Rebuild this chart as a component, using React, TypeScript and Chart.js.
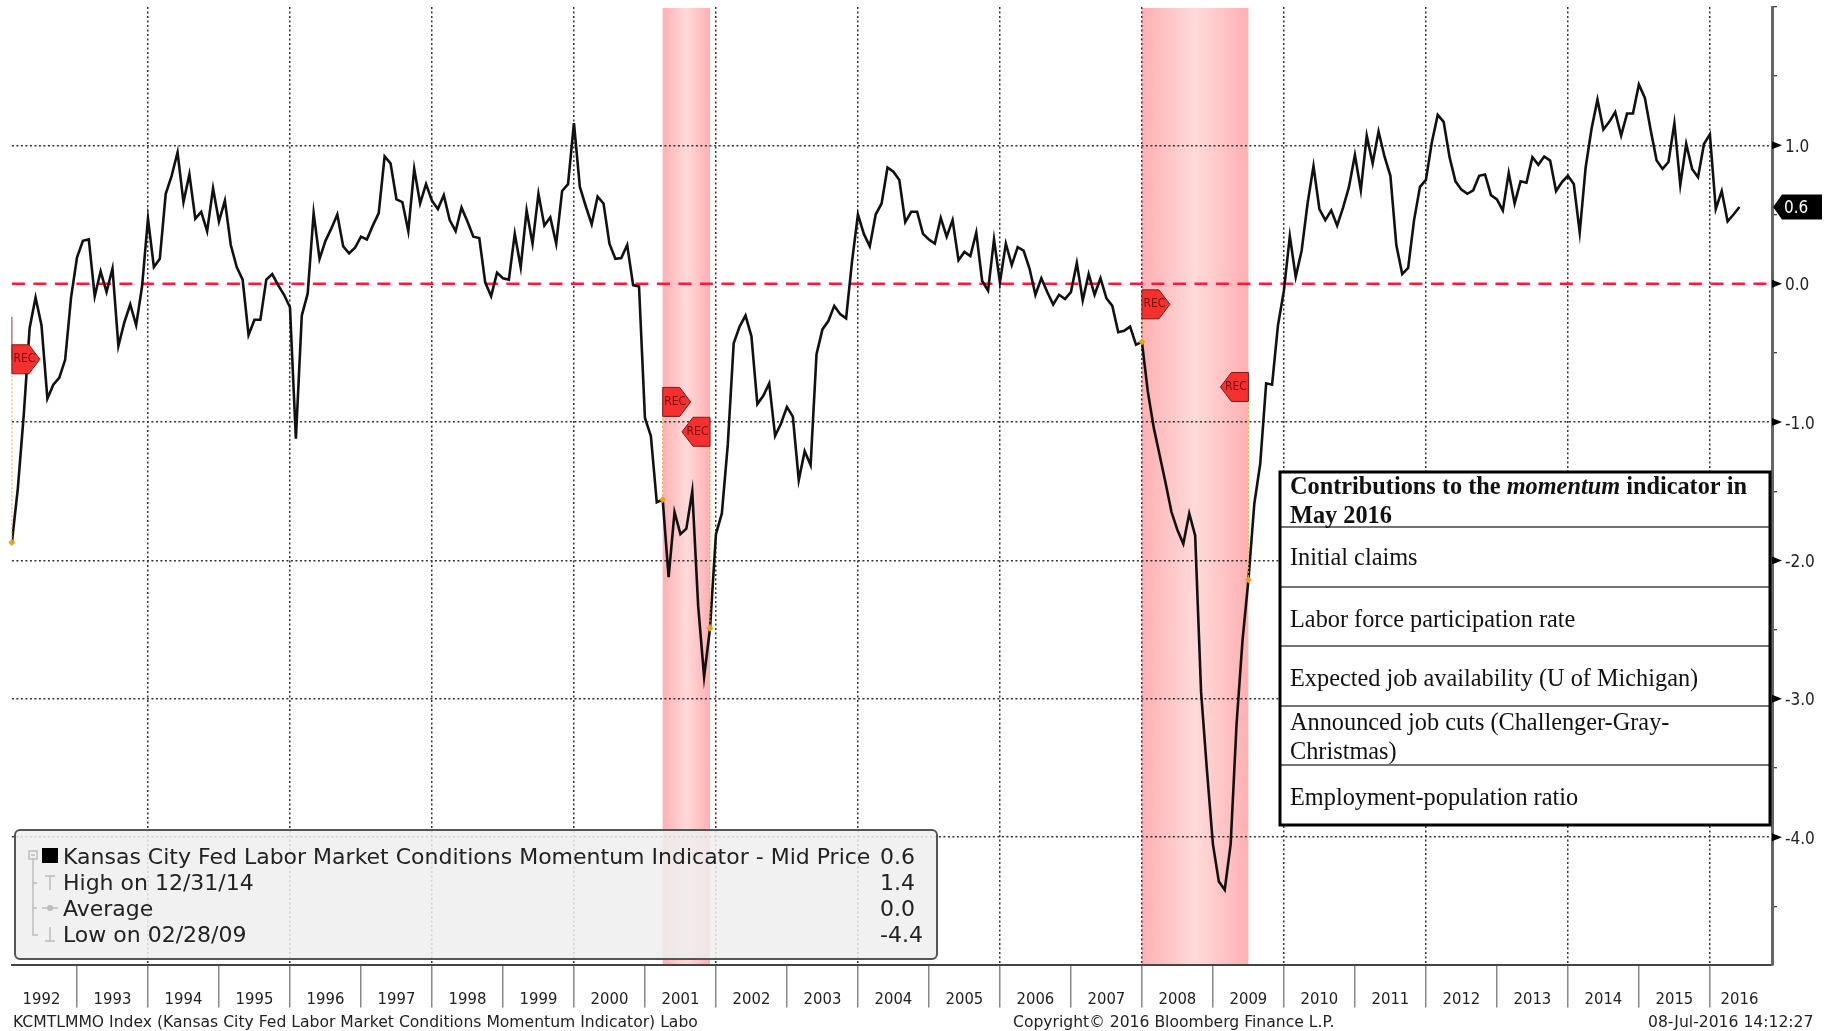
import React, { useEffect, useRef } from "react";
import { Chart, registerables } from "chart.js";

Chart.register(...registerables);

// Month-end readings, Jan 1992 (index 1) to May 2016 (index 293)
const momentum: number[] = [
  -1.87, -1.48, -0.95, -0.32, -0.10, -0.30, -0.83, -0.73, -0.68, -0.55, -0.10, 0.19,
  0.31, 0.32, -0.09, 0.09, -0.06, 0.11, -0.45, -0.28, -0.15, -0.30, -0.02, 0.47,
  0.12, 0.18, 0.65, 0.78, 0.95, 0.59, 0.79, 0.47, 0.52, 0.38, 0.69, 0.45,
  0.60, 0.28, 0.12, 0.03, -0.37, -0.26, -0.26, 0.03, 0.07, -0.01, -0.08, -0.17,
  -1.12, -0.23, -0.07, 0.51, 0.18, 0.31, 0.40, 0.50, 0.27, 0.22, 0.26, 0.34,
  0.32, 0.42, 0.51, 0.92, 0.87, 0.61, 0.59, 0.38, 0.83, 0.58, 0.72, 0.60,
  0.54, 0.64, 0.46, 0.38, 0.55, 0.45, 0.34, 0.33, 0.01, -0.09, 0.08, 0.04,
  0.03, 0.36, 0.12, 0.53, 0.29, 0.65, 0.42, 0.48, 0.29, 0.67, 0.72, 1.16,
  0.70, 0.56, 0.43, 0.63, 0.58, 0.29, 0.18, 0.185, 0.28, -0.01, -0.02, -0.97,
  -1.10, -1.58, -1.56, -2.12, -1.65, -1.81, -1.77, -1.50, -2.33, -2.84, -2.49, -1.81,
  -1.66, -1.165, -0.43, -0.31, -0.23, -0.38, -0.87, -0.81, -0.72, -1.10, -1.01, -0.89,
  -0.96, -1.42, -1.21, -1.31, -0.51, -0.33, -0.27, -0.16, -0.22, -0.25, 0.16, 0.50,
  0.36, 0.27, 0.50, 0.58, 0.84, 0.81, 0.75, 0.445, 0.52, 0.52, 0.36, 0.32,
  0.29, 0.475, 0.34, 0.46, 0.17, 0.23, 0.20, 0.37, 0.02, -0.05, 0.32, 0.01,
  0.29, 0.135, 0.265, 0.24, 0.11, -0.08, 0.04, -0.06, -0.15, -0.08, -0.11, -0.06,
  0.15, -0.12, 0.07, -0.08, 0.04, -0.105, -0.16, -0.35, -0.34, -0.31, -0.44, -0.42,
  -0.78, -1.04, -1.24, -1.44, -1.65, -1.78, -1.88, -1.66, -1.82, -2.95, -3.52, -4.05,
  -4.32, -4.38, -4.05, -3.18, -2.58, -2.14, -1.59, -1.30, -0.72, -0.73, -0.30, -0.05,
  0.345, 0.05, 0.24, 0.58, 0.85, 0.54, 0.46, 0.53, 0.42, 0.55, 0.70, 0.93,
  0.675, 1.07, 0.87, 1.10, 0.92, 0.78, 0.28, 0.07, 0.115, 0.46, 0.70, 0.75,
  1.02, 1.22, 1.17, 0.915, 0.74, 0.68, 0.65, 0.675, 0.78, 0.79, 0.64, 0.61,
  0.53, 0.80, 0.58, 0.74, 0.73, 0.915, 0.86, 0.92, 0.89, 0.67, 0.735, 0.78,
  0.72, 0.37, 0.84, 1.12, 1.33, 1.115, 1.17, 1.24, 1.07, 1.23, 1.23, 1.44,
  1.345, 1.11, 0.89, 0.83, 0.88, 1.16, 0.715, 1.01, 0.83, 0.77, 1.01, 1.08,
  0.54, 0.67, 0.45, 0.50, 0.555,
];

const years: number[] = Array.from({ length: 25 }, (_, i) => 1992 + i);
const yTicks: number[] = [2, 1.5, 1, 0.5, 0, -0.5, -1, -1.5, -2, -2.5, -3, -3.5, -4, -4.5];
const recessionStart: number[] = [111, 192];
const recessionEnd: number[] = [119, 210];
const flagIndex: number[] = [1, 111, 119, 192, 210];
const flagValue: number[] = [-0.546, -0.854, -1.07, -0.149, -0.746];
const flagPointsRight: boolean[] = [true, true, false, true, false];

const legendRows: string[] = ["Kansas City Fed Labor Market Conditions Momentum Indicator - Mid Price", "High on 12/31/14", "Average", "Low on 02/28/09"];
const legendValues: string[] = ["0.6", "1.4", "0.0", "-4.4"];
const tableRows: string[][] = [
  ["Initial claims"],
  ["Labor force participation rate"],
  ["Expected job availability (U of Michigan)"],
  ["Announced job cuts (Challenger-Gray-", "Christmas)"],
  ["Employment-population ratio"],
];
const footerLeft = "KCMTLMMO Index (Kansas City Fed Labor Market Conditions Momentum Indicator) Labo";
const footerMid = "Copyright\u00A9 2016 Bloomberg Finance L.P.";
const footerRight = "08-Jul-2016 14:12:27";

const COND = '"DejaVu Sans Condensed", "DejaVu Sans", sans-serif';
const SANS = '"DejaVu Sans", sans-serif';
const SERIF = '"Liberation Serif", serif';
const X_MAX = 298.5;

const bandsPlugin = {
  id: "bands",
  beforeDraw(chart: any) {
    const { ctx, chartArea: a, scales: { x } } = chart;
    recessionStart.forEach((s, i) => {
      const x0 = x.getPixelForValue(s);
      const x1 = x.getPixelForValue(recessionEnd[i]);
      const g = ctx.createLinearGradient(x0, 0, x1, 0);
      g.addColorStop(0, "rgb(255,176,178)");
      g.addColorStop(0.5, "rgb(255,218,218)");
      g.addColorStop(1, "rgb(255,176,178)");
      ctx.fillStyle = g;
      ctx.fillRect(x0, a.top + 1, x1 - x0, a.bottom - a.top - 1);
    });
  },
};

function drawFlag(ctx: any, x: number, y: number, right: boolean) {
  const w = 28, h = 29, n = 11;
  const d = right ? 1 : -1;
  ctx.beginPath();
  ctx.moveTo(x, y - h / 2);
  ctx.lineTo(x + d * (w - n), y - h / 2);
  ctx.lineTo(x + d * w, y);
  ctx.lineTo(x + d * (w - n), y + h / 2);
  ctx.lineTo(x, y + h / 2);
  ctx.closePath();
  ctx.fillStyle = "#f5302f";
  ctx.fill();
  ctx.lineWidth = 1;
  ctx.strokeStyle = "#7d1a1a";
  ctx.stroke();
  ctx.fillStyle = "#7d1010";
  ctx.font = `12px ${COND}`;
  ctx.textAlign = "center";
  ctx.textBaseline = "middle";
  ctx.fillText("REC", x + d * 12.5, y);
}

const overlayPlugin = {
  id: "overlay",
  afterDraw(chart: any) {
    const { ctx, chartArea: a, scales: { x, y } } = chart;
    ctx.save();

    // connector lines, markers and flags
    ctx.save();
    ctx.beginPath();
    ctx.moveTo(x.getPixelForValue(1), y.getPixelForValue(-0.24));
    ctx.lineTo(x.getPixelForValue(1), y.getPixelForValue(flagValue[0]));
    ctx.strokeStyle = "#a03030";
    ctx.lineWidth = 1;
    ctx.stroke();
    ctx.restore();
    flagIndex.forEach((idx, i) => {
      const px = x.getPixelForValue(idx);
      const fy = y.getPixelForValue(flagValue[i]);
      const py = y.getPixelForValue(momentum[idx - 1]);
      ctx.save();
      ctx.setLineDash([2, 2]);
      ctx.strokeStyle = "#f6a623";
      ctx.lineWidth = 1;
      ctx.beginPath();
      ctx.moveTo(px, fy);
      ctx.lineTo(px, py);
      ctx.stroke();
      ctx.restore();
      ctx.fillStyle = "#e8a020";
      ctx.beginPath();
      ctx.moveTo(px, py - 3.5);
      ctx.lineTo(px + 3.5, py);
      ctx.lineTo(px, py + 3.5);
      ctx.lineTo(px - 3.5, py);
      ctx.closePath();
      ctx.fill();
      drawFlag(ctx, px, fy, flagPointsRight[i]);
    });

    // right axis triangles on labelled ticks
    yTicks.filter((v) => Number.isInteger(v) && v < 2).forEach((v) => {
      const py = y.getPixelForValue(v);
      ctx.fillStyle = "#000";
      ctx.beginPath();
      ctx.moveTo(a.right, py - 4);
      ctx.lineTo(a.right + 10, py);
      ctx.lineTo(a.right, py + 4);
      ctx.closePath();
      ctx.fill();
    });

    // last-value tag
    const last = momentum[momentum.length - 1];
    const ty = y.getPixelForValue(last);
    ctx.fillStyle = "#000";
    ctx.beginPath();
    ctx.moveTo(a.right + 1, ty);
    ctx.lineTo(a.right + 10, ty - 12.5);
    ctx.lineTo(a.right + 50, ty - 12.5);
    ctx.lineTo(a.right + 50, ty + 12.5);
    ctx.lineTo(a.right + 10, ty + 12.5);
    ctx.closePath();
    ctx.fill();
    ctx.fillStyle = "#fff";
    ctx.font = `17px ${COND}`;
    ctx.textAlign = "left";
    ctx.textBaseline = "middle";
    ctx.fillText(last.toFixed(1), a.right + 12, ty + 2);

    // legend box
    const bx = 15, by = 830, bw = 922, bh = 129;
    ctx.beginPath();
    ctx.roundRect(bx, by, bw, bh, 5);
    ctx.fillStyle = "rgba(239,239,239,0.86)";
    ctx.fill();
    ctx.lineWidth = 2;
    ctx.strokeStyle = "#555";
    ctx.stroke();

    // legend tree icons
    ctx.strokeStyle = "#bdbdbd";
    ctx.fillStyle = "#bdbdbd";
    ctx.lineWidth = 1.5;
    ctx.strokeRect(29, 851, 8, 8);
    ctx.beginPath();
    ctx.moveTo(31, 855); ctx.lineTo(35, 855);
    ctx.moveTo(33, 859); ctx.lineTo(33, 935); ctx.lineTo(38, 935);
    ctx.moveTo(33, 883); ctx.lineTo(37, 883);
    ctx.moveTo(33, 908); ctx.lineTo(37, 908);
    ctx.moveTo(45, 876); ctx.lineTo(55, 876);
    ctx.moveTo(50, 876); ctx.lineTo(50, 890);
    ctx.moveTo(42, 908); ctx.lineTo(58, 908);
    ctx.moveTo(50, 927); ctx.lineTo(50, 941);
    ctx.moveTo(45, 941); ctx.lineTo(55, 941);
    ctx.stroke();
    ctx.beginPath();
    ctx.arc(50, 908, 3, 0, Math.PI * 2);
    ctx.fill();
    ctx.fillStyle = "#000";
    ctx.fillRect(42, 848, 16, 15);

    // legend text
    ctx.fillStyle = "#222";
    ctx.font = `22px ${SANS}`;
    ctx.textAlign = "left";
    ctx.textBaseline = "alphabetic";
    legendRows.forEach((t, i) => ctx.fillText(t, 63, 864 + i * 26));
    legendValues.forEach((t, i) => ctx.fillText(t, 880, 864 + i * 26));

    // contributions table
    const tx = 1280, tr = 1770, tt = 472, tb = 825;
    ctx.fillStyle = "#fff";
    ctx.fillRect(tx, tt, tr - tx, tb - tt);
    ctx.strokeStyle = "#444";
    ctx.lineWidth = 1.5;
    [527, 587, 646, 706, 765].forEach((ly) => {
      ctx.beginPath();
      ctx.moveTo(tx, ly);
      ctx.lineTo(tr, ly);
      ctx.stroke();
    });
    ctx.strokeStyle = "#000";
    ctx.lineWidth = 3;
    ctx.strokeRect(tx, tt, tr - tx, tb - tt);

    ctx.fillStyle = "#111";
    const tfx = 1290;
    let cx = tfx;
    [["bold", "Contributions to the "], ["italic bold", "momentum"], ["bold", " indicator in"]].forEach(([w, t]) => {
      ctx.font = `${w} 24.3px ${SERIF}`;
      ctx.fillText(t, cx, 494);
      cx += ctx.measureText(t).width;
    });
    ctx.font = `bold 24.3px ${SERIF}`;
    ctx.fillText("May 2016", tfx, 522.5);
    ctx.font = `24.3px ${SERIF}`;
    const baselines = [[565], [627], [686], [730, 758.5], [805]];
    tableRows.forEach((row, i) => row.forEach((t, j) => ctx.fillText(t, tfx, baselines[i][j])));

    // footer
    ctx.fillStyle = "#222";
    ctx.font = `15.6px ${SANS}`;
    ctx.textAlign = "left";
    ctx.fillText(footerLeft, 13, 1026.5);
    ctx.fillText(footerMid, 1013, 1026.5);
    ctx.fillText(footerRight, 1648, 1026.5);

    ctx.restore();
  },
};

export default function App() {
  const ref = useRef<HTMLCanvasElement | null>(null);
  useEffect(() => {
    document.body.style.margin = "0";
    document.body.style.background = "#fff";
    const points = momentum.map((v, i) => ({ x: i + 1, y: v }));
    const chart = new Chart(ref.current as HTMLCanvasElement, {
      type: "line",
      data: {
        datasets: [
          {
            label: "Zero",
            data: [{ x: 1, y: 0 }, { x: X_MAX, y: 0 }],
            borderColor: "#ff1a3c",
            borderWidth: 2.5,
            borderDash: [13, 8.5],
            pointRadius: 0,
            order: 2,
          },
          {
            label: "Kansas City Fed Labor Market Conditions Momentum Indicator",
            data: points,
            borderColor: "#111",
            borderWidth: 2.6,
            pointRadius: 0,
            tension: 0,
            borderJoinStyle: "miter",
            order: 1,
          },
        ],
      } as any,
      options: {
        responsive: false,
        animation: false,
        events: [],
        layout: { padding: { left: 11.9, top: 7, right: 0, bottom: 0 } },
        plugins: { legend: { display: false }, tooltip: { enabled: false } },
        scales: {
          x: {
            type: "linear",
            min: 1,
            max: X_MAX,
            afterBuildTicks(scale: any) {
              const vals: number[] = [];
              years.forEach((yr, i) => {
                const left = i * 12;
                vals.push(yr === 2016 ? 293 : left + 6);
                if (i > 0) vals.push(left);
              });
              scale.ticks = vals.sort((a, b) => a - b).map((value) => ({ value }));
            },
            afterFit(scale: any) {
              scale.height = 1031 - 964.5;
              scale.paddingLeft = 0;
              scale.paddingRight = 0;
            },
            grid: {
              color: (c: any) => (c.tick && c.tick.value % 24 === 0 ? "#333" : "rgba(0,0,0,0)"),
              tickColor: (c: any) => (c.tick && c.tick.value % 12 === 0 ? "#888" : "rgba(0,0,0,0)"),
              lineWidth: 1.5,
              tickLength: 43,
              tickWidth: 1.5,
            },
            border: { color: "#444", width: 2, dash: [2, 2.5] },
            ticks: {
              autoSkip: false,
              maxRotation: 0,
              padding: -18,
              color: "#222",
              font: { family: COND, size: 16.5 },
              callback(value: any) {
                if (value === 293) return "2016";
                return value % 12 === 6 ? String(1992 + (value - 6) / 12) : "";
              },
            },
          },
          y: {
            position: "right",
            min: -4.92,
            max: 2,
            afterBuildTicks(scale: any) {
              scale.ticks = yTicks.slice().reverse().map((value) => ({ value }));
            },
            afterFit(scale: any) {
              scale.width = 1837 - 1772;
              scale.paddingTop = 0;
              scale.paddingBottom = 0;
            },
            grid: {
              color: (c: any) => {
                const v = c.tick && c.tick.value;
                return Number.isInteger(v) && v !== 0 && v !== 2 ? "#333" : "rgba(0,0,0,0)";
              },
              tickColor: "#000",
              lineWidth: 1.5,
              tickLength: 5,
              tickWidth: 1,
            },
            border: { color: "#666", width: 3, dash: [2, 2.5] },
            ticks: {
              autoSkip: false,
              padding: 8,
              labelOffset: 2,
              color: "#222",
              font: { family: COND, size: 17 },
              callback(value: any) {
                return Number.isInteger(value) && value < 2 ? Number(value).toFixed(1) : "";
              },
            },
          },
        },
      },
      plugins: [bandsPlugin, overlayPlugin],
    } as any);
    return () => chart.destroy();
  }, []);
  return (
    <canvas
      ref={ref}
      width={1837}
      height={1031}
      style={{ display: "block", width: 1837, height: 1031 }}
    />
  );
}
